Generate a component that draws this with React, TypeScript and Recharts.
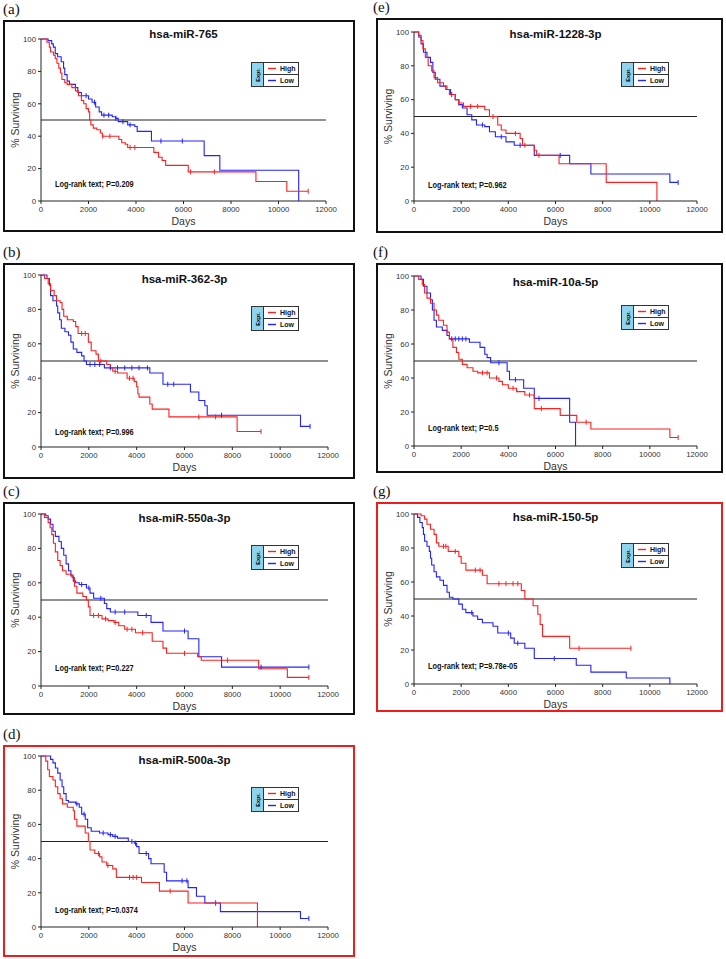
// Kaplan-Meier survival panels (a)-(g), one miRNA per panel, High vs Low expression
import { LineChart, Line, XAxis, YAxis, ReferenceLine } from 'recharts';

// =============================================================================
// Data: [day, % surviving] at each step change, plus censor days
// =============================================================================

type Step = [number, number];

const A_HIGH: Step[] = [[0,100],[250,98],[350,95],[400,92],[530,90],[600,88],[670,85],[750,82],[820,79],[880,75],[1000,73],[1100,72],[1300,70],[1450,68],[1580,65],[1700,62],[1800,60],[1900,57],[2000,55],[2050,50],[2100,47],[2200,45],[2350,44],[2500,42],[2580,40],[3280,38],[3400,36],[3550,35],[3650,33],[4750,30],[4950,27],[5100,25],[5250,22],[6200,18],[9050,12],[10350,6],[11250,6]];
const A_HIGH_C = [2600, 2900, 3750, 3950, 6300, 7300, 11250];
const A_LOW: Step[] = [[0,100],[300,99],[450,97],[520,95],[600,91],[700,89],[850,86],[950,82],[1000,78],[1100,74],[1200,72],[1450,70],[1550,67],[1700,65],[2000,63],[2150,61],[2300,58],[2450,55],[2550,53],[3000,52],[3150,51],[3250,49],[3650,47],[3950,46],[4050,43],[4650,37],[6870,28],[7530,19],[10850,0]];
const A_LOW_C = [1900, 2250, 2650, 2850, 3150, 3450, 3750, 5050, 5950];

const B_HIGH: Step[] = [[0,100],[150,98],[300,95],[400,91],[550,88],[650,85],[800,84],[880,80],[950,76],[1100,74],[1350,73],[1450,70],[1550,66],[1980,61],[2100,56],[2300,54],[2400,50],[2750,48],[2900,46],[3000,44],[3200,43],[3600,40],[3900,38],[4000,35],[4050,31],[4100,29],[4550,25],[4650,22],[5350,17.5],[8200,9],[9200,9]];
const B_HIGH_C = [1700, 1850, 2500, 3100, 3700, 3850, 6600, 7300, 9200];
const B_LOW: Step[] = [[0,100],[250,98],[350,94],[400,88],[500,85],[650,82],[700,78],[780,74],[850,69],[1000,67],[1150,65],[1250,61],[1350,57],[1500,55],[1700,53],[1800,50],[1900,48],[2650,46],[4550,43],[5100,36.5],[6250,32],[6600,27],[6850,24],[6950,18.5],[10850,12],[11250,12]];
const B_LOW_C = [2050, 2250, 2450, 2900, 3200, 3500, 3800, 4100, 4450, 5300, 5550, 7550, 11250];

const C_HIGH: Step[] = [[0,100],[150,98],[300,95],[380,92],[450,88],[520,83],[600,78],[700,73],[800,70],[900,67],[1050,65],[1300,63],[1400,58],[1500,54],[1750,52],[1900,50],[1980,46],[2050,41],[2550,39],[2800,38],[3050,37],[3250,35],[3500,33],[3950,31],[4650,26],[5100,22],[5250,19],[6550,17],[6700,15],[9100,10],[10300,5],[11200,5]];
const C_HIGH_C = [2200, 2400, 2700, 3100, 3600, 3800, 4250, 6000, 7800, 11200];
const C_LOW: Step[] = [[0,100],[200,99],[300,97],[400,94],[500,90],[600,87],[750,84],[850,80],[950,76],[1050,71],[1150,67],[1250,64],[1350,61],[1450,60],[1600,59],[1900,57],[2050,54],[2200,51],[2650,48],[2750,45],[2900,43],[4050,41],[4600,37],[5100,32],[6150,27.5],[6600,17],[7550,11],[11200,11]];
const C_LOW_C = [1700, 2000, 2500, 3100, 3500, 4400, 6000, 9200, 11200];

const D_HIGH: Step[] = [[0,100],[200,97],[280,92],[350,88],[500,86],[600,82],[700,78],[800,75],[900,72],[1100,70],[1350,68],[1400,63],[1500,59],[1850,55],[1980,50],[2050,45],[2250,43],[2450,41],[2550,38],[2750,36],[3000,34],[3150,29],[4200,26],[4950,21],[6150,14],[9050,0]];
const D_HIGH_C = [2400, 2800, 3700, 3850, 4000, 5400, 7300];
const D_LOW: Step[] = [[0,100],[400,98],[500,96],[600,93],[700,90],[800,86],[880,82],[950,78],[1050,74],[1150,73],[1450,72],[1600,70],[1700,66],[1850,63],[1950,58],[2100,56],[2450,55],[2800,54],[3000,53],[3200,52],[3650,50],[3900,49],[4000,47],[4100,43],[4500,40],[4600,37],[5150,32],[5250,27],[6150,23],[6500,18],[6850,14],[7500,9],[10850,5],[11200,5]];
const D_LOW_C = [1500, 1800, 2600, 2900, 3100, 3800, 3950, 4400, 5900, 6100, 7300, 11200];

const E_HIGH: Step[] = [[0,100],[200,98],[300,95],[380,90],[480,85],[600,80],[750,77],[850,73],[1000,70],[1250,68],[1400,66],[1500,63],[1750,60],[1900,58],[2100,56],[3000,54],[3200,50],[3550,45],[3700,42],[3900,40],[4500,37],[4600,33],[5100,30],[5200,27],[6150,22],[8150,11],[10300,0]];
const E_HIGH_C = [1900, 2400, 2700, 3350, 4300, 4700, 5300];
const E_LOW: Step[] = [[0,100],[200,97],[300,93],[400,88],[550,85],[700,82],[800,76],[900,72],[1100,68],[1350,66],[1550,63],[1750,60],[1900,57],[2050,55],[2250,51],[2450,48],[2650,45],[3000,44],[3200,41],[3450,38],[3900,35],[4250,33],[5100,27],[6600,22],[7500,16],[10850,11],[11200,11]];
const E_LOW_C = [1600, 2900, 3700, 4500, 6200, 11200];

const F_HIGH: Step[] = [[0,100],[200,98],[350,95],[450,90],[550,87],[700,84],[850,80],[950,77],[1050,74],[1250,71],[1400,67],[1500,63],[1650,58],[1800,55],[1900,51],[2050,48],[2250,46],[2500,44],[2700,43],[3200,40],[3600,38],[3750,36],[4000,34],[4350,32],[4700,30],[5100,22],[6200,18],[6900,14],[7500,10],[10850,5],[11200,5]];
const F_HIGH_C = [2900, 3100, 3500, 4200, 4900, 5400, 7300, 11200];
const F_LOW: Step[] = [[0,100],[300,98],[400,94],[550,90],[700,86],[780,80],[850,74],[950,70],[1200,68],[1400,65],[1500,63],[2350,61],[2800,58],[3000,54],[3100,52],[3250,49],[3950,44],[4050,39],[4650,34],[5100,28],[6600,14],[6850,0]];
const F_LOW_C = [1600, 1750, 1900, 2050, 2200, 3600, 4300, 5300];

const G_HIGH: Step[] = [[0,100],[300,99],[450,97],[550,94],[700,91],[850,88],[950,83],[1050,81],[1450,78],[1900,75],[2000,71],[2200,67],[2900,64],[3100,59],[4550,55],[4700,50],[5050,46],[5250,41],[5350,35],[5450,28],[6600,21],[9200,21]];
const G_HIGH_C = [1250, 1350, 1750, 2600, 2800, 3600, 3900, 4200, 4400, 7000, 9200];
const G_LOW: Step[] = [[0,100],[150,98],[250,95],[350,92],[400,88],[450,84],[550,81],[650,78],[700,74],[750,70],[850,66],[950,63],[1100,61],[1250,58],[1400,54],[1500,51],[1650,50],[1900,47],[2050,44],[2200,42],[2500,40],[2700,38],[2900,36],[3350,34],[3550,30],[4100,27],[4250,24],[4700,21],[5100,15],[6880,11],[7500,7],[9000,3.5],[10850,0]];
const G_LOW_C = [2450, 4000, 4400, 5950];

const X_TICKS = [0, 2000, 4000, 6000, 8000, 10000, 12000];
const Y_TICKS = [0, 20, 40, 60, 80, 100];

// =============================================================================
// Layout (page pixels)
// =============================================================================

const RED = '#ff1f1f';
const BLUE = '#2323ff';
const SANS = "'Liberation Sans', Arial, sans-serif";

interface PanelCfg {
  tag: string; title: string; p: string;
  high: Step[]; highC: number[]; low: Step[]; lowC: number[];
  box: { x: number; y: number; w: number; h: number };
  plot: { x0: number; x1: number; y100: number; y0: number };
  frame: string; titleY: number; legend: [number, number]; log: [number, number];
}

const PANELS: PanelCfg[] = [
  { tag: '(a)', title: 'hsa-miR-765', p: '0.209', high: A_HIGH, highC: A_HIGH_C, low: A_LOW, lowC: A_LOW_C,
    box: { x: 3, y: 20, w: 352, h: 212 }, plot: { x0: 41, x1: 326, y100: 39, y0: 201 }, frame: '#111', titleY: 34, legend: [251, 62], log: [55, 184] },
  { tag: '(b)', title: 'hsa-miR-362-3p', p: '0.996', high: B_HIGH, highC: B_HIGH_C, low: B_LOW, lowC: B_LOW_C,
    box: { x: 3, y: 263, w: 352, h: 216 }, plot: { x0: 41, x1: 328, y100: 275, y0: 447 }, frame: '#111', titleY: 279, legend: [251, 306], log: [55, 432] },
  { tag: '(c)', title: 'hsa-miR-550a-3p', p: '0.227', high: C_HIGH, highC: C_HIGH_C, low: C_LOW, lowC: C_LOW_C,
    box: { x: 3, y: 502, w: 352, h: 213 }, plot: { x0: 41, x1: 328, y100: 514, y0: 686 }, frame: '#111', titleY: 518, legend: [251, 545], log: [55, 668] },
  { tag: '(d)', title: 'hsa-miR-500a-3p', p: '0.0374', high: D_HIGH, highC: D_HIGH_C, low: D_LOW, lowC: D_LOW_C,
    box: { x: 3, y: 745, w: 352, h: 212 }, plot: { x0: 41, x1: 328, y100: 756, y0: 927 }, frame: '#ee1c1c', titleY: 760, legend: [251, 787], log: [55, 910] },
  { tag: '(e)', title: 'hsa-miR-1228-3p', p: '0.962', high: E_HIGH, highC: E_HIGH_C, low: E_LOW, lowC: E_LOW_C,
    box: { x: 376, y: 18, w: 347, h: 215 }, plot: { x0: 414, x1: 697, y100: 32, y0: 201 }, frame: '#111', titleY: 34, legend: [621, 62], log: [428, 185] },
  { tag: '(f)', title: 'hsa-miR-10a-5p', p: '0.5', high: F_HIGH, highC: F_HIGH_C, low: F_LOW, lowC: F_LOW_C,
    box: { x: 376, y: 263, w: 347, h: 210 }, plot: { x0: 414, x1: 697, y100: 276, y0: 446 }, frame: '#111', titleY: 282, legend: [621, 305], log: [428, 428] },
  { tag: '(g)', title: 'hsa-miR-150-5p', p: '9.78e-05', high: G_HIGH, highC: G_HIGH_C, low: G_LOW, lowC: G_LOW_C,
    box: { x: 376, y: 502, w: 347, h: 210 }, plot: { x0: 414, x1: 697, y100: 514, y0: 684 }, frame: '#ee1c1c', titleY: 517, legend: [621, 543], log: [428, 666] },
];

// =============================================================================
// Helpers
// =============================================================================

interface Pt { x: number; y: number; c?: boolean }

// merge step points with censor marks (censor y taken from the step curve)
function buildSeries(steps: Step[], censors: number[]): Pt[] {
  const survAt = (d: number) => {
    let v = steps[0][1];
    for (const [x, y] of steps) if (x <= d) v = y;
    return v;
  };
  const pts: Pt[] = steps.map(([x, y]) => ({ x, y }));
  for (const d of censors) pts.push({ x: d, y: survAt(d), c: true });
  return pts.sort((a, b) => a.x - b.x || (a.c ? 1 : 0) - (b.c ? 1 : 0));
}

function censorDot(color: string) {
  return (props: any) => {
    const { cx, cy, payload, index } = props;
    if (!payload || !payload.c) return <g key={`n-${index}`} />;
    return <line key={`c-${index}`} x1={cx} x2={cx} y1={cy - 2.5} y2={cy + 2.5} stroke={color} strokeWidth={1} />;
  };
}

function Legend({ x, y }: { x: number; y: number }) {
  const row = (color: string, label: string, last: boolean) => (
    <div style={{ height: 11, display: 'flex', alignItems: 'center', borderBottom: last ? 'none' : '1px solid #333' }}>
      <svg width={16} height={11} style={{ display: 'block', flex: 'none' }}>
        <line x1={4} x2={12} y1={5.5} y2={5.5} stroke={color} strokeWidth={1.4} />
      </svg>
      <span style={{ fontSize: 7, fontWeight: 700, fontFamily: SANS, color: '#111' }}>{label}</span>
    </div>
  );
  return (
    <div style={{ position: 'absolute', left: x, top: y, width: 46, height: 23, border: '1px solid #333', background: '#fff', display: 'flex' }}>
      <div style={{ width: 11, background: '#8fd4ec', borderRight: '1px solid #333', display: 'flex', alignItems: 'center', justifyContent: 'center', overflow: 'hidden' }}>
        <span style={{ transform: 'rotate(-90deg)', fontSize: 5.5, fontWeight: 700, fontFamily: SANS, whiteSpace: 'nowrap' }}>Expr.</span>
      </div>
      <div style={{ flex: 1 }}>
        {row(RED, 'High', false)}
        {row(BLUE, 'Low', true)}
      </div>
    </div>
  );
}

function Panel({ cfg }: { cfg: PanelCfg }) {
  const { box, plot } = cfg;
  const ix = box.x + 2;
  const iy = box.y + 2;
  const w = box.w - 4;
  const h = box.h - 4;
  const yAxisW = plot.x0 - ix;
  const xAxisH = iy + h - plot.y0;
  const high = buildSeries(cfg.high, cfg.highC);
  const low = buildSeries(cfg.low, cfg.lowC);
  const colLeft = box.x < 100 ? 3 : 373;

  return (
    <>
      <div style={{ position: 'absolute', left: colLeft, top: box.y - 18, fontFamily: "'Liberation Serif', serif", fontSize: 15, lineHeight: '15px', color: '#111' }}>
        {cfg.tag}
      </div>
      <div style={{ position: 'absolute', left: box.x, top: box.y, width: box.w, height: box.h, border: `2px solid ${cfg.frame}`, boxSizing: 'border-box', background: '#fff' }}>
        <LineChart width={w} height={h} margin={{ top: plot.y100 - iy, right: ix + w - plot.x1, bottom: 0, left: 0 }}>
          <XAxis
            type="number"
            dataKey="x"
            domain={[0, 12000]}
            ticks={X_TICKS}
            height={xAxisH}
            tickSize={3}
            tick={{ fontSize: 7.8, fill: '#333', fontFamily: SANS }}
            stroke="#222"
            allowDuplicatedCategory={false}
            label={(p: any) => {
              const vb = p.viewBox;
              return (
                <text x={vb.x + vb.width / 2} y={plot.y0 - iy + 24} textAnchor="middle" fontSize={10.5} fill="#333" fontFamily={SANS}>Days</text>
              );
            }}
          />
          <YAxis
            type="number"
            domain={[0, 100]}
            ticks={Y_TICKS}
            width={yAxisW}
            tickSize={3}
            tick={{ fontSize: 7.8, fill: '#333', fontFamily: SANS }}
            stroke="#222"
            label={(p: any) => {
              const vb = p.viewBox;
              const cx = 10;
              const cy = vb.y + vb.height / 2;
              return (
                <text x={cx} y={cy} transform={`rotate(-90 ${cx} ${cy})`} textAnchor="middle" dominantBaseline="central" fontSize={10.5} fill="#333" fontFamily={SANS}>% Surviving</text>
              );
            }}
          />
          <ReferenceLine y={50} stroke="#222" strokeWidth={1.2} />
          <Line data={low} dataKey="y" type="stepAfter" stroke={BLUE} strokeWidth={1.1} dot={censorDot(BLUE)} activeDot={false} isAnimationActive={false} />
          <Line data={high} dataKey="y" type="stepAfter" stroke={RED} strokeWidth={1.1} dot={censorDot(RED)} activeDot={false} isAnimationActive={false} />
        </LineChart>
      </div>
      <div style={{ position: 'absolute', left: plot.x0, width: plot.x1 - plot.x0, top: cfg.titleY - 8, textAlign: 'center', fontFamily: SANS, fontWeight: 700, fontSize: 11.5, lineHeight: '16px', color: '#111' }}>
        {cfg.title}
      </div>
      <Legend x={cfg.legend[0]} y={cfg.legend[1]} />
      <div style={{ position: 'absolute', left: cfg.log[0], top: cfg.log[1] - 6, fontFamily: SANS, fontWeight: 700, fontSize: 9.2, lineHeight: '12px', color: '#111', whiteSpace: 'nowrap', transform: 'scaleX(0.8)', transformOrigin: 'left center' }}>
        Log-rank text; P={cfg.p}
      </div>
    </>
  );
}

// =============================================================================
// App
// =============================================================================

export default function App() {
  return (
    <div style={{ position: 'absolute', left: 0, top: 0, width: 726, height: 959, background: '#fff' }}>
      {PANELS.map((cfg) => (
        <Panel key={cfg.tag} cfg={cfg} />
      ))}
    </div>
  );
}
